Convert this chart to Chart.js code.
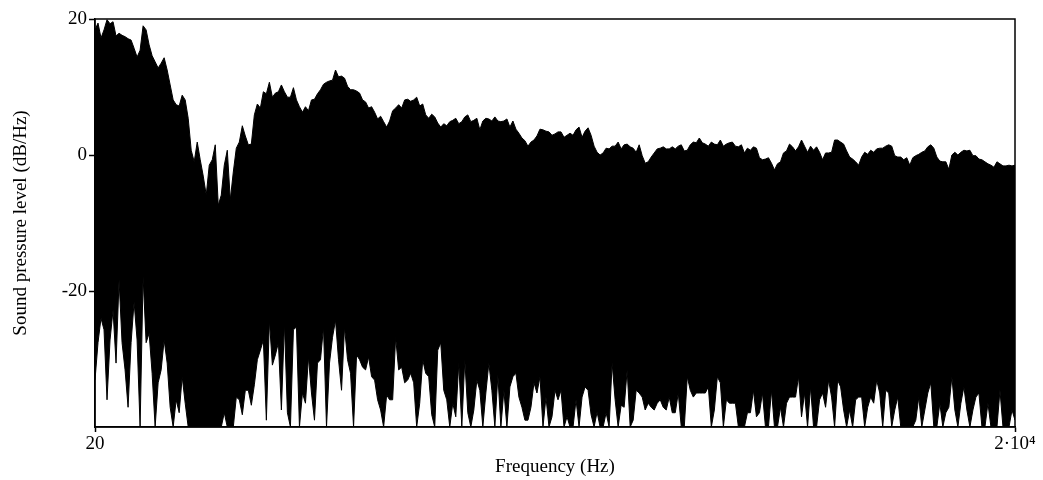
<!DOCTYPE html>
<html>
<head>
<meta charset="utf-8">
<title>Spectrum</title>
<script src="https://cdn.jsdelivr.net/npm/chart.js@4.4.1/dist/chart.umd.min.js"></script>
<style>
  html, body { margin: 0; padding: 0; background: #fff; }
  canvas { display: block; }
</style>
</head>
<body>
<canvas id="spectrum" width="1043" height="480" style="width:1043px;height:480px"></canvas>
<script>
// Frequency range of the spectrum (Hz)
const freqStart = 20;
const freqEnd = 20000;

// Upper envelope of the spectrum, one value per analysis band (dB/Hz)
const peakDb = [
  18.4,19.4,17.2,18.4,19.9,19.3,19.6,17.5,17.9,17.6,17.4,17.1,16.9,15.7,14.4,15.4,19.0,18.4,16.2,14.6,13.7,12.8,13.5,14.3,12.5,10.3,8.1,7.4,7.2,8.8,8.1,5.4,0.7,-1.0,1.9,-0.7,-3.1,-5.9,
  -1.5,-0.7,1.5,-7.4,-5.9,-1.5,0.7,-6.6,-2.5,1.0,1.9,4.3,2.8,1.5,1.6,5.9,7.5,6.9,9.3,9.0,10.7,8.5,9.1,9.3,10.3,9.3,8.5,8.5,9.9,8.1,7.1,6.3,7.1,6.5,8.1,8.2,9.0,9.6,10.4,
  10.7,10.9,11.0,12.5,11.5,11.6,11.3,10.1,9.6,9.6,9.4,9.1,8.1,7.8,6.9,7.1,6.3,5.3,5.7,4.9,4.1,5.0,6.5,6.9,7.4,6.9,8.1,8.2,7.9,8.1,8.5,7.2,7.5,5.9,5.4,6.0,5.6,4.7,4.1,
  4.6,4.3,4.9,5.1,5.4,4.6,4.9,5.6,5.9,4.9,5.1,5.4,3.7,5.0,5.4,5.3,5.0,5.6,5.0,4.9,5.0,5.3,4.1,5.0,3.8,3.2,2.5,2.1,1.3,1.9,2.2,2.8,3.8,3.7,3.5,3.4,2.9,3.1,3.4,
  3.4,2.6,2.9,3.2,2.9,3.7,4.1,2.6,3.5,4.0,2.9,1.3,0.4,0.0,0.3,1.0,0.9,1.3,1.3,1.9,0.9,1.5,1.6,1.2,1.0,0.4,1.5,-0.1,-1.2,-1.0,-0.3,0.3,0.9,1.0,1.2,0.9,0.9,1.2,0.9,
  1.3,1.5,0.6,0.7,1.5,1.9,1.8,2.5,1.8,1.6,1.3,1.9,1.6,1.5,2.2,1.3,1.6,1.8,1.9,1.3,1.2,1.5,0.3,1.0,0.7,1.2,1.0,-0.4,-0.7,-0.6,-0.4,-1.2,-2.2,-1.3,-1.0,0.3,0.6,1.6,1.2,
  0.6,1.2,2.2,1.3,0.4,1.3,0.7,1.2,0.4,-0.7,0.3,0.3,0.4,2.2,2.2,1.9,1.6,0.6,-0.3,-0.6,-1.0,-1.5,-0.3,0.4,0.1,0.7,0.4,0.9,1.0,1.0,1.3,1.5,1.3,-0.1,-0.3,-0.3,-0.7,-0.4,-1.5,
  -0.4,-0.1,0.1,0.4,0.6,1.2,1.5,1.0,-0.3,-0.9,-1.0,-1.0,-2.1,0.0,0.4,0.0,0.4,0.7,0.6,0.7,-0.1,-0.1,-0.6,-0.7,-1.0,-1.3,-1.5,-1.8,-1.0,-1.3,-1.6,-1.6,-1.5,-1.6,-1.5
];

// Lower envelope of the same bands (dB/Hz); -40 reaches the bottom of the axis
const floorDb = [
  -33.1,-27.6,-24.0,-25.7,-36.0,-27.2,-22.8,-30.6,-18.4,-27.6,-31.6,-37.1,-27.6,-21.6,-27.2,-40,-17.9,-27.6,-26.2,-32.1,-40,-33.5,-31.6,-27.2,-30.6,-37.1,-40,-36.0,-37.9,-32.6,-36.5,-40,-40,-40,-40,-40,-40,-40,
  -40,-40,-40,-40,-40,-37.9,-40,-40,-40,-35.6,-36.0,-38.2,-34.6,-34.6,-36.8,-33.8,-30.1,-28.7,-27.2,-39.0,-24.3,-30.9,-29.4,-27.6,-37.5,-24.7,-37.9,-40,-25.7,-25.3,-40,-35.0,-36.5,-29.7,-35.0,-39.0,-30.6,-30.1,-25.3,
  -40,-30.6,-26.8,-24.3,-30.1,-34.6,-25.3,-30.1,-32.1,-40,-29.4,-30.1,-31.2,-31.6,-29.7,-32.6,-33.1,-36.0,-37.5,-40,-35.3,-36.0,-36.0,-26.8,-31.6,-31.2,-33.5,-33.1,-32.1,-33.5,-40,-36.5,-30.1,-32.1,-32.6,-38.2,-40,-28.7,-27.6,
  -34.6,-36.0,-40,-36.5,-38.5,-30.6,-40,-30.1,-37.9,-40,-37.5,-33.1,-34.6,-40,-35.0,-30.6,-34.6,-40,-32.4,-40,-34.6,-40,-34.1,-32.6,-32.1,-35.6,-37.1,-39.0,-39.0,-37.1,-33.5,-35.0,-32.6,-40,-35.6,-40,-38.5,-34.6,-36.0,
  -34.6,-40,-38.5,-40,-40,-36.0,-40,-35.6,-34.1,-34.6,-38.2,-40,-37.8,-40,-40,-37.9,-40,-30.6,-36.0,-40,-36.8,-37.1,-31.6,-40,-39.0,-34.6,-35.0,-35.6,-37.5,-36.5,-37.1,-37.5,-36.5,-36.0,-37.1,-37.5,-35.6,-37.9,-37.9,
  -35.0,-40,-40,-32.6,-34.6,-35.6,-35.0,-35.0,-35.0,-35.0,-34.1,-40,-37.5,-32.6,-33.5,-40,-36.0,-36.5,-36.5,-36.5,-40,-40,-40,-37.9,-37.9,-34.6,-38.5,-37.9,-35.0,-40,-40,-34.6,-40,-40,-37.1,-40,-36.5,-35.6,-35.6,
  -35.6,-32.6,-38.5,-35.0,-40,-34.1,-40,-40,-36.0,-35.0,-37.1,-33.1,-35.6,-40,-33.1,-34.1,-37.5,-40,-37.5,-40,-36.0,-35.6,-35.6,-40,-37.1,-35.6,-36.5,-33.1,-35.0,-40,-34.6,-35.0,-40,-37.5,-35.6,-40,-40,-40,-40,
  -40,-39.0,-35.6,-40,-37.5,-35.0,-33.5,-40,-40,-36.5,-40,-37.9,-37.1,-32.6,-37.5,-40,-36.5,-34.1,-37.5,-40,-37.5,-35.6,-35.0,-40,-40,-36.5,-40,-40,-40,-34.6,-40,-40,-40,-37.5,-39.0
];

// Axis ticks
const xTickValues = [20, 20000];
const xTickLabels = ['20', '2\u00B710\u2074'];
const yTickValues = [-20, 0, 20];
const yMin = -40;
const yMax = 20;

// Bands are evenly spaced across the frequency range
const bandStep = (freqEnd - freqStart) / (peakDb.length - 1);
const bandFreqs = peakDb.map((_, i) => freqStart + i * bandStep);

const serif = "'Liberation Serif', 'Times New Roman', serif";
const textSize = 19;
Chart.defaults.color = '#000';
Chart.defaults.font.family = serif;
Chart.defaults.font.size = textSize;

// Draws the closed box round the plotting area
const frameBox = {
  id: 'frameBox',
  afterDraw(chart) {
    const { ctx, chartArea: a } = chart;
    ctx.save();
    ctx.strokeStyle = '#000';
    ctx.lineWidth = 1.5;
    ctx.strokeRect(a.left, a.top, a.right - a.left, a.bottom - a.top);
    ctx.restore();
  }
};

new Chart(document.getElementById('spectrum'), {
  type: 'line',
  data: {
    datasets: [
      {
        label: 'peak',
        data: bandFreqs.map((f, i) => ({ x: f, y: peakDb[i] })),
        borderColor: '#000',
        borderWidth: 1,
        pointRadius: 0,
        tension: 0,
        fill: false
      },
      {
        label: 'floor',
        data: bandFreqs.map((f, i) => ({ x: f, y: floorDb[i] })),
        borderColor: '#000',
        borderWidth: 1,
        backgroundColor: '#000',
        pointRadius: 0,
        tension: 0,
        fill: '-1'
      }
    ]
  },
  options: {
    responsive: false,
    devicePixelRatio: 1,
    animation: false,
    parsing: false,
    layout: { padding: { top: 19, right: 28, bottom: 0, left: 0 } },
    plugins: {
      legend: { display: false },
      tooltip: { enabled: false }
    },
    scales: {
      x: {
        type: 'linear',
        min: freqStart,
        max: freqEnd,
        afterBuildTicks: (s) => { s.ticks = xTickValues.map(v => ({ value: v })); },
        afterFit: (s) => { s.height = 53; },
        ticks: {
          autoSkip: false,
          maxRotation: 0,
          padding: 1,
          color: '#000',
          font: { family: serif, size: textSize },
          callback: (v) => xTickLabels[xTickValues.indexOf(v)]
        },
        grid: { display: true, drawOnChartArea: false, drawTicks: true, tickLength: 5, tickColor: '#000', tickWidth: 1.5 },
        border: { display: true, color: '#000', width: 1.5 },
        title: {
          display: true,
          text: 'Frequency (Hz)',
          color: '#000',
          font: { family: serif, size: textSize },
          padding: { top: 0, bottom: 2 }
        }
      },
      y: {
        type: 'linear',
        min: yMin,
        max: yMax,
        afterBuildTicks: (s) => { s.ticks = yTickValues.map(v => ({ value: v })); },
        afterFit: (s) => { s.width = 95; },
        ticks: {
          padding: 2,
          color: '#000',
          font: { family: serif, size: textSize },
          callback: (v) => String(v)
        },
        grid: { display: true, drawOnChartArea: false, drawTicks: true, tickLength: 6, tickColor: '#000', tickWidth: 1.5 },
        border: { display: true, color: '#000', width: 1.5 },
        title: {
          display: true,
          text: 'Sound pressure level (dB/Hz)',
          color: '#000',
          font: { family: serif, size: textSize },
          padding: { top: 10, bottom: 0 }
        }
      }
    }
  },
  plugins: [frameBox]
});
</script>
</body>
</html>
